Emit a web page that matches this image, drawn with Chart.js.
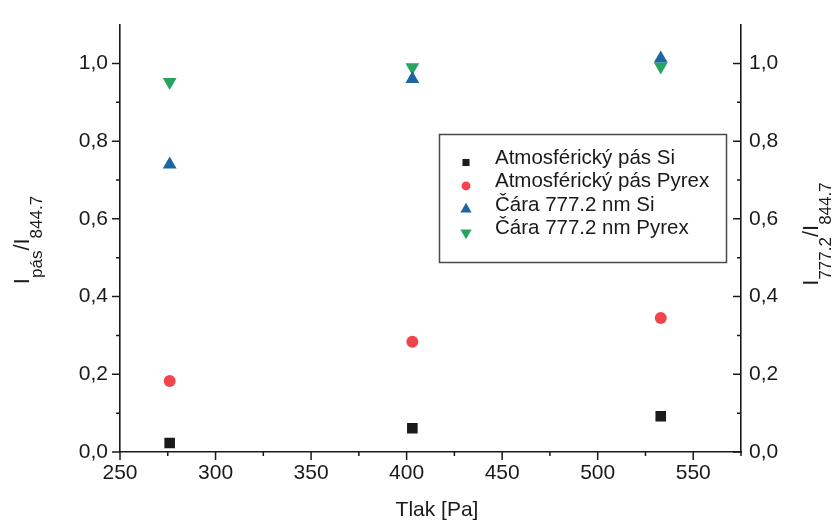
<!DOCTYPE html>
<html>
<head>
<meta charset="utf-8">
<title>Tlak vs. poměr intenzit</title>
<script src="https://cdn.jsdelivr.net/npm/chart.js@4.4.0/dist/chart.umd.min.js"></script>
<style>
    html, body { margin: 0; padding: 0; background: #fff; }
    #wrap { width: 832px; height: 528px; }
</style>
</head>
<body>
<div id="wrap"><canvas id="chart" width="832" height="528"></canvas></div>
<script>
// Data
const pressures = [276, 403, 533];                 // Tlak [Pa]
const bandSi = [0.023, 0.061, 0.092];              // Atmosférický pás Si
const bandPyrex = [0.183, 0.284, 0.345];           // Atmosférický pás Pyrex
const lineSi = [0.740, 0.960, 1.013];              // Čára 777.2 nm Si
const linePyrex = [0.952, 0.990, 0.992];           // Čára 777.2 nm Pyrex

const seriesLabels = ['Atmosférický pás Si', 'Atmosférický pás Pyrex', 'Čára 777.2 nm Si', 'Čára 777.2 nm Pyrex'];
const xTicks = [250, 300, 350, 400, 450, 500, 550];
const yTicks = [0, 0.2, 0.4, 0.6, 0.8, 1.0];
const xTitle = 'Tlak [Pa]';
const yLeftTitle = [['I', false], ['pás', true], ['/I', false], ['844.7', true]];
const yRightTitle = [['I', false], ['777.2', true], ['/I', false], ['844.7', true]];

const FONT = "'Liberation Sans', Arial, sans-serif";
const INK = '#1a1a1a';

const toPoints = (ys) => pressures.map((p, i) => ({ x: p, y: ys[i] }));

// Small fallback in case helpers are not exposed
function marker(ctx, style, rot, r, x, y) {
    if (window.Chart && Chart.helpers && Chart.helpers.drawPoint) {
        Chart.helpers.drawPoint(ctx, { pointStyle: style, rotation: rot, radius: r, borderWidth: 0 }, x, y);
        return;
    }
    ctx.beginPath();
    if (style === 'circle') ctx.arc(x, y, r, 0, Math.PI * 2);
    else if (style === 'rect') { const s = r * Math.SQRT1_2; ctx.rect(x - s, y - s, 2 * s, 2 * s); }
    else {
        let a = rot * Math.PI / 180;
        for (let k = 0; k < 3; k++) {
            const px = x + Math.sin(a) * r, py = y - Math.cos(a) * r;
            k ? ctx.lineTo(px, py) : ctx.moveTo(px, py);
            a += 2 * Math.PI / 3;
        }
        ctx.closePath();
    }
    ctx.fill();
}

// Draws a rotated axis title with subscripts
function drawRotatedTitle(ctx, parts, baseX, centerY) {
    ctx.save();
    ctx.translate(baseX, centerY);
    ctx.rotate(-Math.PI / 2);
    ctx.fillStyle = INK;
    ctx.textBaseline = 'alphabetic';
    ctx.textAlign = 'left';
    let total = 0;
    const widths = parts.map(([t, sub]) => {
        ctx.font = (sub ? 17 : 22) + 'px ' + FONT;
        const w = ctx.measureText(t).width;
        total += w;
        return w;
    });
    let x = -total / 2;
    parts.forEach(([t, sub], i) => {
        ctx.font = (sub ? 17 : 22) + 'px ' + FONT;
        ctx.fillText(t, x, sub ? 13 : 0);
        x += widths[i];
    });
    ctx.restore();
}

// Tick marks (major + minor), axis titles and the boxed legend
const decorPlugin = {
    id: 'decor',
    beforeDatasetsDraw(chart) {
        const { ctx, chartArea: a, scales } = chart;
        ctx.save();
        ctx.strokeStyle = INK;
        ctx.lineWidth = 1.5;
        ctx.beginPath();
        const xs = scales.x;
        for (let v = xs.min; v <= xs.max + 1e-6; v += 25) {
            const px = xs.getPixelForValue(v);
            const len = xTicks.includes(v) ? 8 : 4;
            ctx.moveTo(px, a.bottom);
            ctx.lineTo(px, a.bottom + len);
        }
        const ys = scales.y;
        for (let k = 0; k <= 10; k++) {
            const v = k / 10;
            const py = ys.getPixelForValue(v);
            const len = k % 2 === 0 ? 8 : 4;
            ctx.moveTo(a.left, py);
            ctx.lineTo(a.left - len, py);
            ctx.moveTo(a.right, py);
            ctx.lineTo(a.right - len, py);
        }
        ctx.stroke();
        ctx.restore();
    },
    afterDraw(chart) {
        const { ctx } = chart;
        ctx.save();
        // x title
        ctx.fillStyle = INK;
        ctx.font = '21px ' + FONT;
        ctx.textAlign = 'center';
        ctx.textBaseline = 'middle';
        ctx.fillText(xTitle, 437, 510);
        drawRotatedTitle(ctx, yLeftTitle, 29, 240);
        drawRotatedTitle(ctx, yRightTitle, 818, 234);

        // legend box
        ctx.strokeStyle = '#4a4a4a';
        ctx.lineWidth = 1.5;
        ctx.strokeRect(439.5, 134.5, 287, 128);
        const legendR = { rect: 5, circle: 4.5, triangle: 6.5 };
        chart.data.datasets.forEach((ds, i) => {
            const y = 162.5 + 23.4 * i;
            ctx.fillStyle = ds.backgroundColor;
            marker(ctx, ds.pointStyle, ds.pointRotation || 0, legendR[ds.pointStyle], 466, y);
            ctx.fillStyle = INK;
            ctx.font = '20.5px ' + FONT;
            ctx.textAlign = 'left';
            ctx.textBaseline = 'alphabetic';
            ctx.fillText(ds.label, 495, y + 1.5);
        });
        ctx.restore();
    }
};

const tickFont = { family: FONT, size: 21 };
const fmt = (v) => v.toFixed(1).replace('.', ',');

new Chart(document.getElementById('chart'), {
    type: 'scatter',
    data: {
        datasets: [
            { label: seriesLabels[0], data: toPoints(bandSi), yAxisID: 'y',
              pointStyle: 'rect', pointRadius: 7.5, backgroundColor: '#1a1a1a', borderWidth: 0 },
            { label: seriesLabels[1], data: toPoints(bandPyrex), yAxisID: 'y',
              pointStyle: 'circle', pointRadius: 6, backgroundColor: '#f2444d', borderWidth: 0 },
            { label: seriesLabels[2], data: toPoints(lineSi), yAxisID: 'y1',
              pointStyle: 'triangle', pointRadius: 8, backgroundColor: '#1d66a3', borderWidth: 0 },
            { label: seriesLabels[3], data: toPoints(linePyrex), yAxisID: 'y1',
              pointStyle: 'triangle', pointRotation: 180, pointRadius: 8, backgroundColor: '#27a55e', borderWidth: 0 }
        ]
    },
    options: {
        responsive: false,
        animation: false,
        devicePixelRatio: 1,
        layout: { padding: { top: 17, left: 0, right: 0, bottom: 0 } },
        plugins: { legend: { display: false }, tooltip: { enabled: false } },
        scales: {
            x: {
                type: 'linear', min: 250, max: 575,
                afterBuildTicks: (s) => { s.ticks = xTicks.map(v => ({ value: v })); },
                afterFit: (s) => { s.height = 76; },
                grid: { display: false, drawTicks: false },
                border: { display: true, color: INK, width: 1.6 },
                ticks: { font: tickFont, color: INK, padding: 9, maxRotation: 0 }
            },
            y: {
                type: 'linear', position: 'left', min: 0, max: 1.1,
                afterBuildTicks: (s) => { s.ticks = yTicks.map(v => ({ value: v })); },
                afterFit: (s) => { s.width = 120; },
                grid: { display: false, drawTicks: false },
                border: { display: true, color: INK, width: 1.6 },
                ticks: { font: tickFont, color: INK, padding: 12, callback: fmt }
            },
            y1: {
                type: 'linear', position: 'right', min: 0, max: 1.1,
                afterBuildTicks: (s) => { s.ticks = yTicks.map(v => ({ value: v })); },
                afterFit: (s) => { s.width = 91; },
                grid: { display: false, drawTicks: false },
                border: { display: true, color: INK, width: 1.6 },
                ticks: { font: tickFont, color: INK, padding: 8, callback: fmt }
            }
        }
    },
    plugins: [decorPlugin]
});
</script>
</body>
</html>
